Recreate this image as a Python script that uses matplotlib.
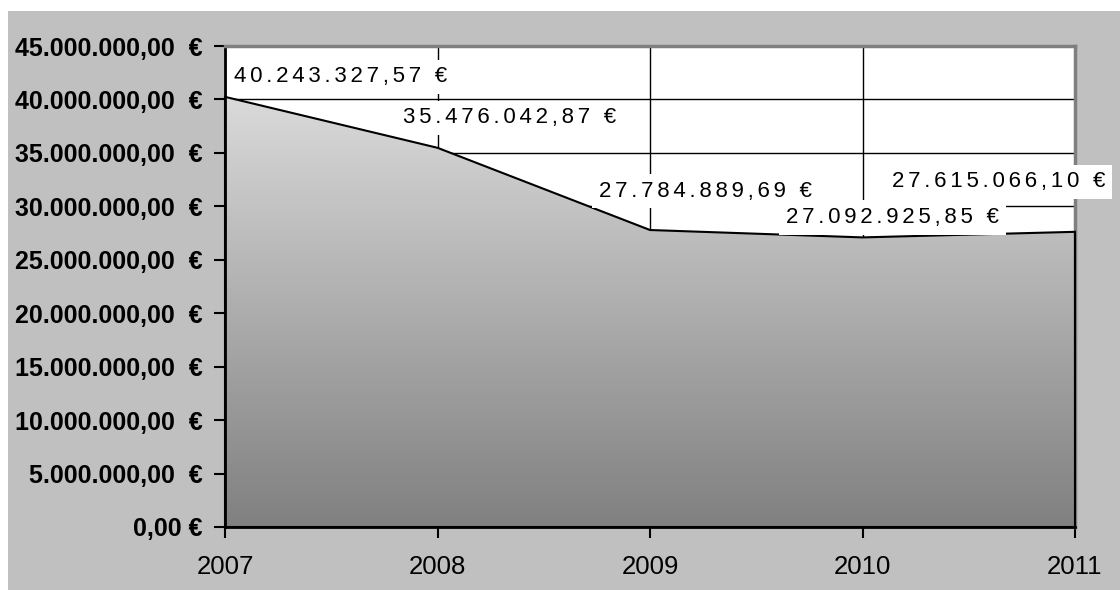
import matplotlib
matplotlib.use("Agg")
import matplotlib.pyplot as plt
from matplotlib.colors import LinearSegmentedColormap
from matplotlib.patches import Polygon, Rectangle
from matplotlib.ticker import FuncFormatter
import numpy as np

# data
years = [2007, 2008, 2009, 2010, 2011]
values = [40243327.57, 35476042.87, 27784889.69, 27092925.85, 27615066.10]
y_ticks = [0, 5e6, 10e6, 15e6, 20e6, 25e6, 30e6, 35e6, 40e6, 45e6]

# label offsets in pixels (x, y) from each point
label_offsets = [(116, 20), (72, 30), (55, 39), (30, 20), (-76, 50)]

FONT = ["Liberation Sans", "DejaVu Sans"]
plt.rcParams["font.family"] = FONT


def euro(v, sep="  "):
    s = "{:,.2f}".format(v).replace(",", "X").replace(".", ",").replace("X", ".")
    if v == 0:
        sep = " "
    return s + sep + "\u20ac"


def spaced(s):
    # excel draws the data labels with wide character spacing
    return "\u2006".join(s)


fig = plt.figure(figsize=(11.2, 5.9), dpi=100, facecolor="white")
fig.patches.append(Rectangle((8 / 1120, 0), 1 - 8 / 1120, 1 - 11 / 590,
                             transform=fig.transFigure, facecolor="#c0c0c0",
                             edgecolor="none", zorder=-1))

ax = fig.add_axes([225 / 1120, 63 / 590, 850 / 1120, 481 / 590])
ax.set_facecolor("white")
ax.set_axisbelow(True)

# gradient area
cmap = LinearSegmentedColormap.from_list("greys", ["#808080", "#dadada"])
grad = np.linspace(0, 1, 256).reshape(-1, 1)
im = ax.imshow(grad, cmap=cmap, origin="lower", aspect="auto",
               extent=[years[0], years[-1], 0, max(values)], zorder=2)
verts = list(zip(years, values)) + [(years[-1], 0), (years[0], 0)]
area = Polygon(verts, closed=True, facecolor="none", edgecolor="black",
               lw=1.5, zorder=3, clip_on=False)
ax.add_patch(area)
im.set_clip_path(area)

ax.set_xlim(years[0], years[-1])
ax.set_ylim(0, 45e6)
ax.set_xticks(years)
ax.set_yticks(y_ticks)
ax.yaxis.set_major_formatter(FuncFormatter(lambda v, p: euro(v)))
ax.grid(True, color="black", lw=1)

for lbl in ax.get_yticklabels():
    lbl.set_fontweight("bold")
ax.tick_params(axis="y", labelsize=18, length=8, width=1.5, pad=8)
ax.tick_params(axis="x", labelsize=18.5, length=8, width=1.5, pad=12)

ax.spines["left"].set_linewidth(2)
ax.spines["bottom"].set_linewidth(2)
for side in ["top", "right"]:
    ax.spines[side].set_color("#7f7f7f")
    ax.spines[side].set_linewidth(2.5)

for yr, v, off in zip(years, values, label_offsets):
    ax.annotate(spaced(euro(v, " ")), xy=(yr, v), xytext=off,
                textcoords="offset pixels", ha="center", va="center",
                fontsize=16, family=FONT, zorder=6, annotation_clip=False,
                bbox=dict(boxstyle="square,pad=0.3", fc="white", ec="none"))

fig.savefig("out.png", dpi=100)
